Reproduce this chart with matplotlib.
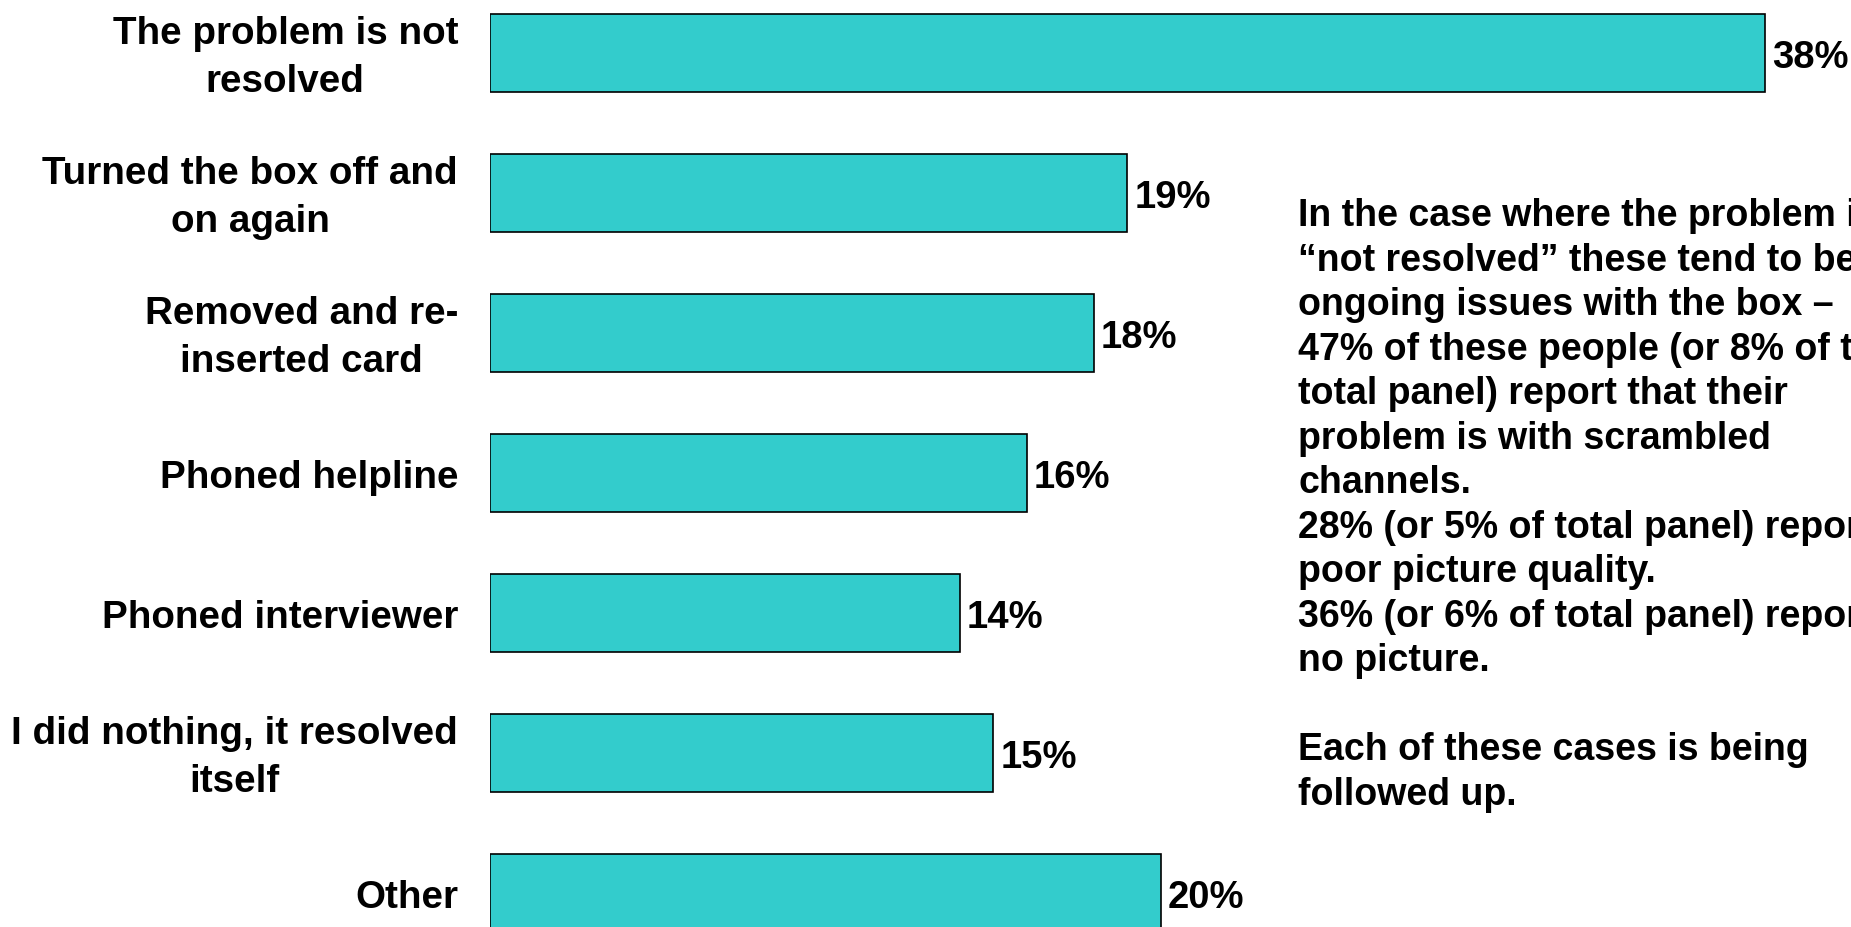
import matplotlib.pyplot as plt

# share of respondents by action taken when the box had a problem
acoes = ['The problem is not\nresolved',
         'Turned the box off and\non again',
         'Removed and re-\ninserted card',
         'Phoned helpline',
         'Phoned interviewer',
         'I did nothing, it resolved\nitself',
         'Other']
pct = [38, 19, 18, 16, 14, 15, 20]

nota = ('In the case where the problem is\n'
        '\u201cnot resolved\u201d these tend to be\n'
        'ongoing issues with the box \u2013\n'
        '47% of these people (or 8% of the\n'
        'total panel) report that their\n'
        'problem is with scrambled\n'
        'channels.\n'
        '28% (or 5% of total panel) report\n'
        'poor picture quality.\n'
        '36% (or 6% of total panel) report\n'
        'no picture.\n'
        '\n'
        'Each of these cases is being\n'
        'followed up.')

plt.rcParams['font.family'] = ['Liberation Sans', 'DejaVu Sans']

W, H = 1851, 928
fig = plt.figure(figsize=(W/100, H/100), dpi=100)
x0 = 490          # pixel where the bars start
px_pct = 33.55    # pixels per percent
ax = fig.add_axes([x0/W, 0, 1 - x0/W, 1])

y = list(range(len(pct)))
ax.barh(y, pct, height=0.56, color='#33CCCC', edgecolor='black', linewidth=1.2)
ax.set_xlim(0, (W - x0)/px_pct)
ax.set_ylim((H - 54)/140, -54/140)
ax.axis('off')

dy = 0.03  # text sits a touch lower than the bar centre
for i in y:
    ax.text(-32/px_pct, i + dy, acoes[i], ha='right', va='center', multialignment='center',
            fontsize=27.8, fontweight='bold', linespacing=1.45)
    ax.annotate(f'{pct[i]}%', (pct[i], i + dy), xytext=(5, 0), textcoords='offset points',
                ha='left', va='center', fontsize=27.5, fontweight='bold')

fig.text(1298/W, 1 - 198/H, nota, ha='left', va='top', fontsize=27,
         fontweight='bold', linespacing=1.305)

fig.savefig('out.png', dpi=100, facecolor='white')
